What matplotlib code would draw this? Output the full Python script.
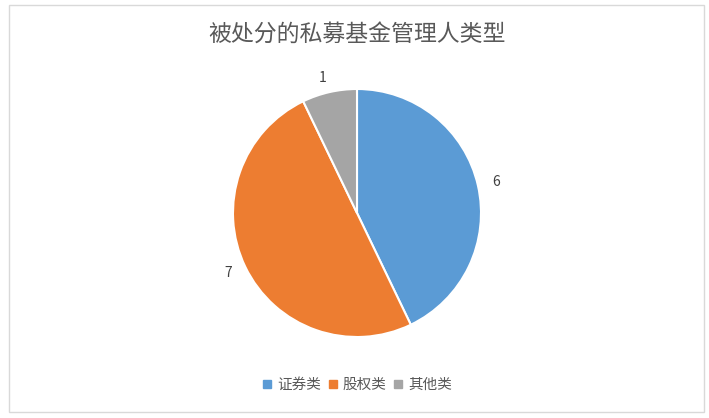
import matplotlib
matplotlib.use("Agg")
import matplotlib.pyplot as plt
from matplotlib.patches import Rectangle
from matplotlib.lines import Line2D

plt.rcParams['font.family'] = ['Noto Sans CJK SC', 'DejaVu Sans']

# --- data ---
categories = ['证券类', '股权类', '其他类']
counts = [6, 7, 1]
colors = ['#5B9BD5', '#ED7D31', '#A5A5A5']
title = '被处分的私募基金管理人类型'

W, H = 709, 418
fig = plt.figure(figsize=(W / 100, H / 100), dpi=100)

# chart border
fig.patches.append(Rectangle((9 / W, 1 - 412 / H), 695 / W, 407 / H,
                             transform=fig.transFigure, fill=False,
                             edgecolor='#D9D9D9', linewidth=1))

# pie axes: centre (357, 213) px, radius 124 px
r = 124
cx, cy = 357, 213
ax = fig.add_axes([(cx - r) / W, 1 - (cy + r) / H, 2 * r / W, 2 * r / H])
wedges, texts = ax.pie(counts, labels=[str(c) for c in counts], colors=colors,
                       startangle=90, counterclock=False, labeldistance=1.12,
                       wedgeprops=dict(edgecolor='white', linewidth=1.5),
                       textprops=dict(color='#404040', fontsize=10))
ax.set_aspect('equal')
ax.set_xlim(-1, 1)
ax.set_ylim(-1, 1)

fig.text(357 / W, 1 - 34 / H, title, ha='center', va='center',
         fontsize=16.5, color='#595959', fontweight='light')

handles = [Line2D([], [], marker='s', linestyle='none', markersize=6,
                  markerfacecolor=c, markeredgecolor=c) for c in colors]
fig.legend(handles, categories, loc='center', bbox_to_anchor=(357 / W, 1 - 385 / H),
           ncol=3, frameon=False, fontsize=10.5, handlelength=0.7,
           handletextpad=0.35, columnspacing=0.45, labelcolor='#595959')

fig.savefig('out.png', dpi=100)
